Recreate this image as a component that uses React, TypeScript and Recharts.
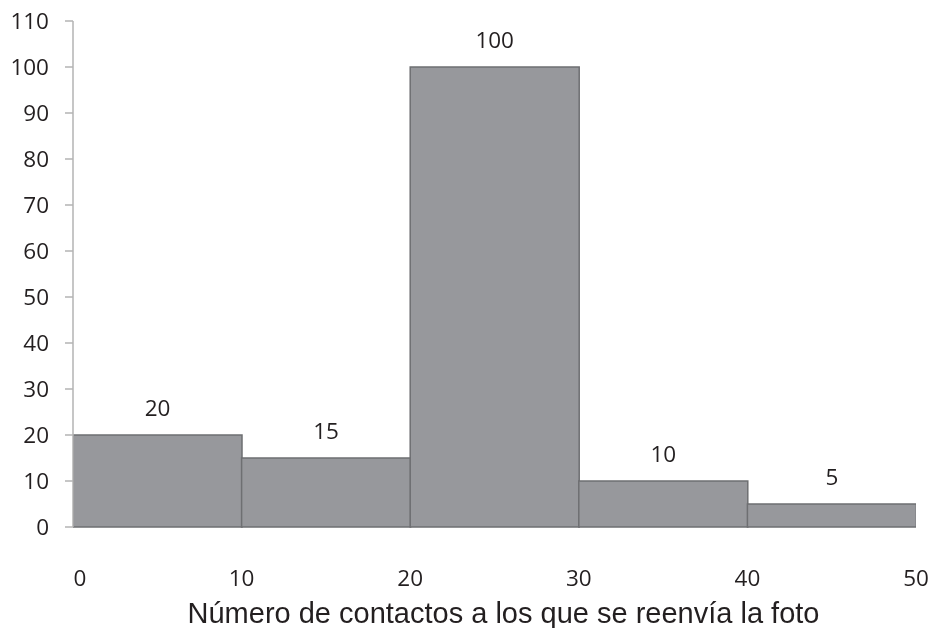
import React from 'react';
import { BarChart, Bar, XAxis, YAxis, LabelList, Label } from 'recharts';

const binStarts = [0, 10, 20, 30, 40];
const binWidth = 10;
const counts = [20, 15, 100, 10, 5];
const xTicks = [0, 10, 20, 30, 40, 50];
const yTicks = [0, 10, 20, 30, 40, 50, 60, 70, 80, 90, 100, 110];
const xTitle = 'Número de contactos a los que se reenvía la foto';

const data = binStarts.map((start, i) => ({ mid: start + binWidth / 2, count: counts[i] }));

const TEXT = '#231f20';
const NUM_FONT = '"Open Sans", Lato, sans-serif';
const NUM_SIZE = 22.5;

const XTick = (props: any) => {
  const { x, y, payload } = props;
  const shift = payload.value === 0 ? 7 : 0;
  return (
    <text
      x={x + shift}
      y={y}
      dy="0.71em"
      textAnchor="middle"
      fill={TEXT}
      fontSize={NUM_SIZE}
      fontFamily={NUM_FONT}
    >
      {payload.value}
    </text>
  );
};

export default function App() {
  return (
    <div style={{ position: 'fixed', left: 0, top: 0, width: 932, height: 628 }}>
      <BarChart
        width={932}
        height={628}
        data={data}
        margin={{ top: 21, right: 16, bottom: 0, left: 0 }}
        barCategoryGap={0}
        barGap={0}
        style={{ overflow: 'visible' }}
      >
        <XAxis
          dataKey="mid"
          type="number"
          domain={[0, 50]}
          ticks={xTicks}
          interval={0}
          allowDataOverflow
          axisLine={false}
          tickLine={false}
          tickSize={0}
          tickMargin={43}
          height={101}
          tick={<XTick />}
        >
          <Label
            value={xTitle}
            position="insideBottom"
            offset={5}
            dx={9}
            fill={TEXT}
            fontSize={29}
            fontFamily='"Liberation Sans", Arial, sans-serif'
          />
        </XAxis>
        <YAxis
          domain={[0, 110]}
          ticks={yTicks}
          interval={0}
          width={73}
          axisLine={{ stroke: '#b3b3b3', strokeWidth: 1.5 }}
          tickLine={{ stroke: '#b3b3b3', strokeWidth: 1.5 }}
          tickSize={8}
          tickMargin={16}
          tick={{ fill: TEXT, fontSize: NUM_SIZE, fontFamily: NUM_FONT }}
        />
        <Bar
          dataKey="count"
          fill="#97989c"
          stroke="#6e6f72"
          strokeWidth={1.5}
          isAnimationActive={false}
        >
          <LabelList
            dataKey="count"
            position="top"
            offset={19}
            fill={TEXT}
            fontSize={NUM_SIZE}
            fontFamily={NUM_FONT}
          />
        </Bar>
      </BarChart>
    </div>
  );
}
